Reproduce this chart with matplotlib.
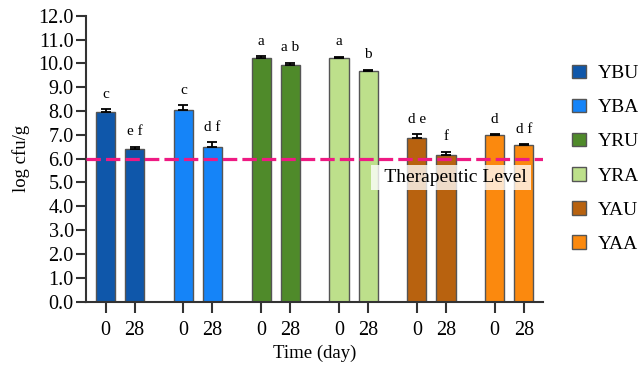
import numpy as np
import matplotlib.pyplot as plt
from matplotlib.patches import Patch

plt.rcParams['font.family'] = ['Liberation Serif', 'DejaVu Serif']

groups = ["YBU", "YBA", "YRU", "YRA", "YAU", "YAA"]
days = ["0", "28"]
colors = ["#0f57aa", "#1584f8", "#4f8a2a", "#bde08b", "#b8620f", "#fb890e"]
# log cfu/g at day 0 and day 28
means = [[7.94, 6.42], [8.06, 6.50], [10.23, 9.93], [10.24, 9.70], [6.87, 6.16], [7.00, 6.57]]
errs = [[0.15, 0.08], [0.18, 0.19], [0.08, 0.10], [0.04, 0.03], [0.17, 0.13], [0.03, 0.03]]
letters = [["c", "e f"], ["c", "d f"], ["a", "a b"], ["a", "b"], ["d e", "f"], ["d", "d f"]]
threshold = 6.0

gap = 2.68
fig = plt.figure(figsize=(6.38, 3.66), dpi=100)
ax = fig.add_axes([0.135, 0.176, 0.716, 0.781])

xt, xl = [], []
for g in range(len(groups)):
    xs = g * gap + np.arange(2)
    ax.bar(xs, means[g], width=0.66, color=colors[g], edgecolor="#555555", linewidth=1, zorder=2)
    ax.errorbar(xs, means[g], yerr=[np.zeros(2), errs[g]], fmt="none", ecolor="black",
                elinewidth=1.3, capsize=3.5, capthick=1.3, zorder=3)
    for i in range(2):
        ax.annotate(letters[g][i], (xs[i], means[g][i] + errs[g][i]), xytext=(0, 6),
                    textcoords="offset points", ha="center", va="bottom", fontsize=11)
    xt += list(xs)
    xl += days

line = ax.axhline(threshold, color="#ee1a83", linewidth=2.3, zorder=4)
line.set_dashes((4.5, 1.6))
# leading spaces give the label box its wider left margin
ax.text(14.5, 5.2, "  Therapeutic Level", ha="right", va="center", fontsize=14, zorder=5,
        bbox=dict(facecolor="white", alpha=0.78, edgecolor="none", pad=3))

ax.set_xlim(-0.67, 5 * gap + 1.66)
ax.set_ylim(0, 12)
ax.set_yticks(np.arange(0, 12.5, 1.0))
ax.set_yticklabels([f"{v:.1f}" for v in np.arange(0, 12.5, 1.0)], fontsize=14.5)
ax.set_xticks(xt)
ax.set_xticklabels(xl, fontsize=14.5)
ax.tick_params(axis="both", direction="out", width=1.5, color="#333333")
ax.tick_params(axis="y", length=7.5, pad=1.5)
ax.tick_params(axis="x", length=8, pad=6)
for s in ["top", "right"]:
    ax.spines[s].set_visible(False)
for s in ["left", "bottom"]:
    ax.spines[s].set_linewidth(1.5)
    ax.spines[s].set_color("#333333")

ax.set_xlabel("Time (day)", fontsize=13.5, labelpad=3)
ax.set_ylabel("log cfu/g", fontsize=13.5, labelpad=6)

handles = [Patch(facecolor=c, edgecolor="#555555", linewidth=1, label=n) for c, n in zip(colors, groups)]
fig.legend(handles=handles, loc="upper left", bbox_to_anchor=(0.885, 0.845), frameon=False,
           fontsize=14, handlelength=0.7, handleheight=0.7, handletextpad=0.6, labelspacing=0.85,
           borderaxespad=0)

fig.savefig("out.png", dpi=100)
